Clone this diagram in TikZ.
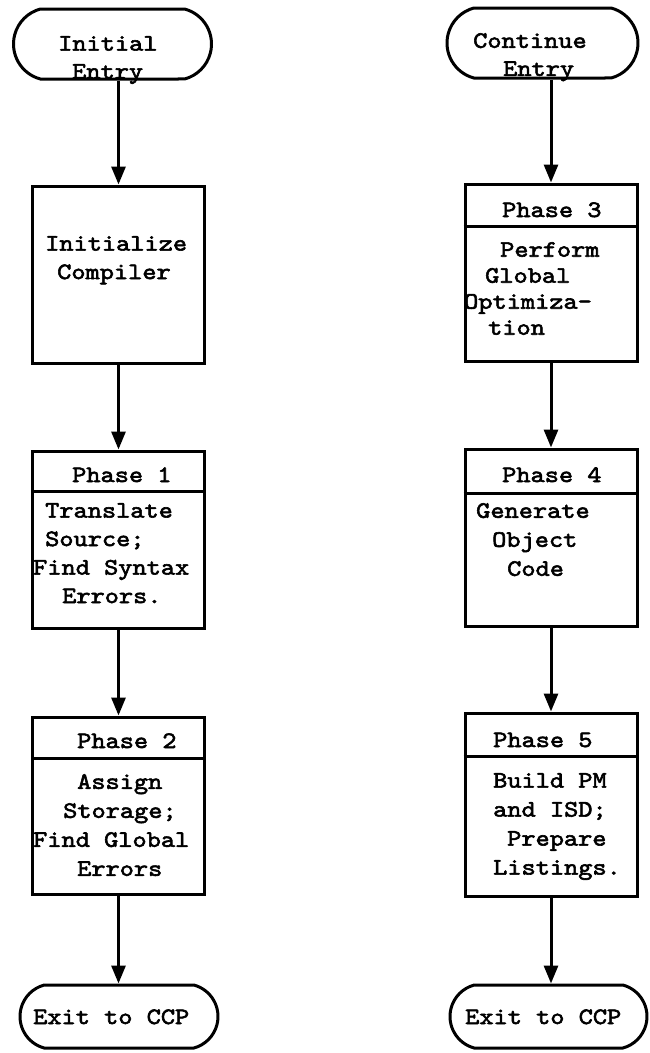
\documentclass[tikz,border=0pt]{standalone}
\usepackage{fontspec}
\setmonofont{lmmono10-regular.otf}[FakeStretch=1.15, FakeBold=2.5]
\usetikzlibrary{arrows.meta, shapes.misc}
\newcommand{\ind}[1]{\hspace*{#1pt}}

\begin{document}
\begin{tikzpicture}[x=1pt, y=-1pt,
    term/.style={rounded rectangle, rounded rectangle arc length=150, draw=black, line width=3pt, minimum width=198pt, minimum height=68pt, inner sep=0pt},
    phase/.style={rectangle, draw=black, line width=3pt, minimum width=172pt, minimum height=177pt, inner sep=0pt},
    head/.style={inner sep=0pt, anchor=base west, font=\ttfamily\fontsize{23.5}{28.5}\selectfont},
    body/.style={inner sep=0pt, anchor=north west, align=left, font={\ttfamily\fontsize{23.5}{#1}\selectfont}},
    body/.default=28.5,
    flow/.style={line width=3pt, -{Triangle[length=18pt, width=14pt]}}]
  \useasboundingbox (0,0) rectangle (650,1053);

  % left column
  \node[term, minimum height=70pt] (ie) at (112.5,44) {};
  \node[body=28] (iet) at (58,36) {Initial\\\ind{14}Entry};
  \node[phase] (init) at (118.5,274.5) {};
  \node[body] (initb) at (45,236) {Initialize\\\ind{12}Compiler};
  \node[phase] (p1) at (118.5,539.5) {};
  \node[head] (p1h) at (72,482) {Phase 1};
  \node[body] (p1b) at (33,503) {\ind{12}Translate\\\ind{12}Source;\\Find Syntax\\\ind{29}Errors.};
  \node[phase] (p2) at (118.5,805.5) {};
  \node[head] (p2h) at (77,748) {Phase 2};
  \node[body=29] (p2b) at (33,774) {\ind{44}Assign\\\ind{30}Storage;\\Find Global\\\ind{44}Errors};
  \node[term, minimum height=63pt] (ex1) at (119,1016.5) {};
  \node[head] (ex1t) at (33,1024) {Exit to CCP};

  % right column
  \node[term, minimum width=191pt, minimum height=70pt] (ce) at (542.5,43) {};
  \node[body=28] (cet) at (473,33) {Continue\\\ind{30}Entry};
  \node[phase] (p3) at (551,272.5) {};
  \node[head] (p3h) at (502,217) {Phase 3};
  \node[body=26] (p3b) at (464,242) {\ind{36}Perform\\\ind{21}Global\\Optimiza-\\\ind{24}tion};
  \node[phase] (p4) at (551,537.5) {};
  \node[head] (p4h) at (502,482) {Phase 4};
  \node[body=29] (p4b) at (476,503) {Generate\\\ind{16}Object\\\ind{31}Code};
  \node[phase, minimum height=183pt] (p5) at (551,804.5) {};
  \node[head] (p5h) at (493,747) {Phase 5};
  \node[body=29] (p5b) at (493,773) {Build PM\\and ISD;\\\ind{14}Prepare\\Listings.};
  \node[term, minimum width=197pt, minimum height=63pt] (ex2) at (548.5,1016.5) {};
  \node[head] (ex2t) at (465,1024) {Exit to CCP};

  % header rules
  \draw[line width=3pt] ([yshift=-42pt]p1.north west) -- ([yshift=-42pt]p1.north east);
  \draw[line width=3pt] ([yshift=-43pt]p2.north west) -- ([yshift=-43pt]p2.north east);
  \draw[line width=3pt] ([yshift=-44pt]p3.north west) -- ([yshift=-44pt]p3.north east);
  \draw[line width=3pt] ([yshift=-46pt]p4.north west) -- ([yshift=-46pt]p4.north east);
  \draw[line width=3pt] ([yshift=-45pt]p5.north west) -- ([yshift=-45pt]p5.north east);

  % connectors
  \draw[flow] (ie.south -| init.north) -- (init.north);
  \draw[flow] (init.south) -- (p1.north);
  \draw[flow] (p1.south) -- (p2.north);
  \draw[flow] (p2.south) -- (p2.south |- ex1.north);
  \draw[flow] (ce.south -| p3.north) -- (p3.north);
  \draw[flow] (p3.south) -- (p4.north);
  \draw[flow] (p4.south) -- (p5.north);
  \draw[flow] (p5.south) -- (p5.south |- ex2.north);
\end{tikzpicture}
\end{document}
